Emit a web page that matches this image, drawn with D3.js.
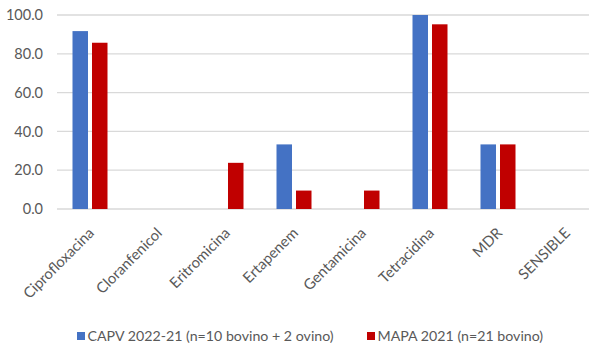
<!DOCTYPE html>
<html>
<head>
<meta charset="utf-8">
<script src="https://cdn.jsdelivr.net/npm/d3@7"></script>
<style>
  html, body { margin: 0; padding: 0; background: #fff; overflow: hidden; }
  svg { display: block; }
  text { font-family: Lato, "Open Sans", sans-serif; fill: #595959; }
</style>
</head>
<body>
<svg id="chart" width="590" height="344"></svg>
<script>
// Resistance percentages per antimicrobial
const categories = ["Ciprofloxacina", "Cloranfenicol", "Eritromicina", "Ertapenem",
                    "Gentamicina", "Tetracidina", "MDR", "SENSIBLE"];
const capv = [91.7, 0, 0, 33.3, 0, 100, 33.3, 0];
const mapa = [85.7, 0, 23.8, 9.5, 9.5, 95.2, 33.3, 0];
const seriesNames = ["CAPV 2022-21 (n=10 bovino + 2 ovino)", "MAPA 2021 (n=21 bovino)"];
const seriesColors = ["#4472C4", "#C00000"];
const yTicks = [0, 20, 40, 60, 80, 100];

const svg = d3.select("#chart");
const plotLeft = 57, plotRight = 600, gridRight = 589;
const plotTop = 15, plotBottom = 209;

const x = d3.scaleBand().domain(categories).range([plotLeft - 1, plotRight]);
const y = d3.scaleLinear().domain([0, 100]).range([plotBottom, plotTop]);

// gridlines
svg.append("g")
  .selectAll("line")
  .data(yTicks)
  .join("line")
  .attr("x1", plotLeft).attr("x2", gridRight)
  .attr("y1", d => y(d)).attr("y2", d => y(d))
  .attr("stroke", "#d9d9d9").attr("stroke-width", 1.3);

// y tick labels
svg.append("g")
  .selectAll("text")
  .data(yTicks)
  .join("text")
  .attr("x", 43).attr("y", d => y(d))
  .attr("dy", "0.36em")
  .attr("text-anchor", "end")
  .style("font-size", "14.5px")
  .text(d => d3.format(".1f")(d));

// bars
const barW = 15.5, gap = 4;
[capv, mapa].forEach((vals, si) => {
  svg.append("g")
    .selectAll("rect")
    .data(vals)
    .join("rect")
    .attr("x", (d, i) => x(categories[i]) + x.bandwidth() / 2 + (si === 0 ? -barW - gap / 2 : gap / 2))
    .attr("y", d => y(d))
    .attr("width", barW)
    .attr("height", d => plotBottom - y(d))
    .attr("fill", seriesColors[si]);
});

// category labels, rotated 45 degrees
svg.append("g")
  .selectAll("text")
  .data(categories)
  .join("text")
  .attr("transform", d => `translate(${x(d) + x.bandwidth() / 2 + 5},${plotBottom + 25}) rotate(-45)`)
  .attr("text-anchor", "end")
  .style("font-size", "14.8px")
  .text(d => d);

// legend
const legendY = 336;
const legendX = [77, 367];
seriesNames.forEach((name, i) => {
  svg.append("rect")
    .attr("x", legendX[i]).attr("y", legendY - 4)
    .attr("width", 8).attr("height", 8)
    .attr("fill", seriesColors[i]);
  svg.append("text")
    .attr("x", legendX[i] + 10.5).attr("y", legendY)
    .attr("dy", "0.36em")
    .style("font-size", "14.2px")
    .text(name);
});
</script>
</body>
</html>
